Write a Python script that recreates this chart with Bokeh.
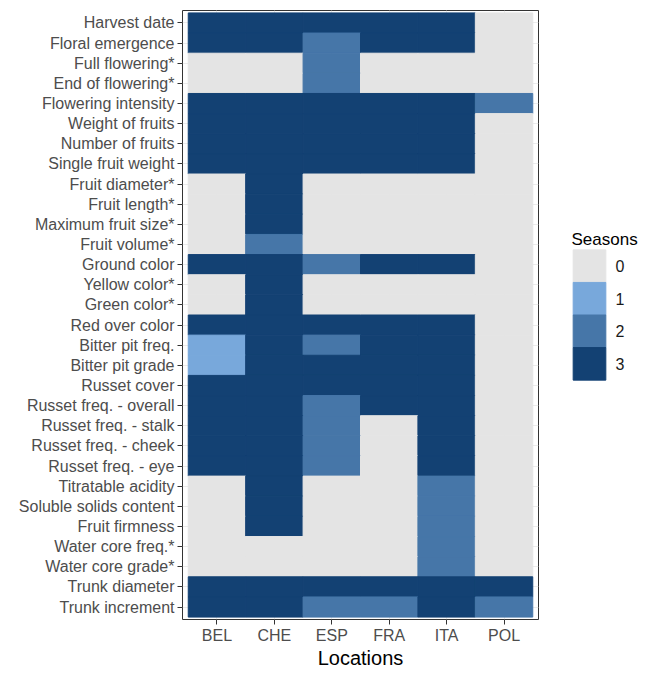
from bokeh.plotting import figure
from bokeh.models import ColumnDataSource, FactorRange, CategoricalColorMapper
from bokeh.core.properties import value
from bokeh.layouts import row
from bokeh.embed import file_html
from bokeh.resources import INLINE

locations = ["BEL", "CHE", "ESP", "FRA", "ITA", "POL"]

traits = [
    "Harvest date", "Floral emergence", "Full flowering*", "End of flowering*",
    "Flowering intensity", "Weight of fruits", "Number of fruits",
    "Single fruit weight", "Fruit diameter*", "Fruit length*",
    "Maximum fruit size*", "Fruit volume*", "Ground color", "Yellow color*",
    "Green color*", "Red over color", "Bitter pit freq.", "Bitter pit grade",
    "Russet cover", "Russet freq. - overall", "Russet freq. - stalk",
    "Russet freq. - cheek", "Russet freq. - eye", "Titratable acidity",
    "Soluble solids content", "Fruit firmness", "Water core freq.*",
    "Water core grade*", "Trunk diameter", "Trunk increment",
]

# seasons per trait, columns in order of `locations`
seasons = [
    [3, 3, 3, 3, 3, 0],  # Harvest date
    [3, 3, 2, 3, 3, 0],  # Floral emergence
    [0, 0, 2, 0, 0, 0],  # Full flowering*
    [0, 0, 2, 0, 0, 0],  # End of flowering*
    [3, 3, 3, 3, 3, 2],  # Flowering intensity
    [3, 3, 3, 3, 3, 0],  # Weight of fruits
    [3, 3, 3, 3, 3, 0],  # Number of fruits
    [3, 3, 3, 3, 3, 0],  # Single fruit weight
    [0, 3, 0, 0, 0, 0],  # Fruit diameter*
    [0, 3, 0, 0, 0, 0],  # Fruit length*
    [0, 3, 0, 0, 0, 0],  # Maximum fruit size*
    [0, 2, 0, 0, 0, 0],  # Fruit volume*
    [3, 3, 2, 3, 3, 0],  # Ground color
    [0, 3, 0, 0, 0, 0],  # Yellow color*
    [0, 3, 0, 0, 0, 0],  # Green color*
    [3, 3, 3, 3, 3, 0],  # Red over color
    [1, 3, 2, 3, 3, 0],  # Bitter pit freq.
    [1, 3, 3, 3, 3, 0],  # Bitter pit grade
    [3, 3, 3, 3, 3, 0],  # Russet cover
    [3, 3, 2, 3, 3, 0],  # Russet freq. - overall
    [3, 3, 2, 0, 3, 0],  # Russet freq. - stalk
    [3, 3, 2, 0, 3, 0],  # Russet freq. - cheek
    [3, 3, 2, 0, 3, 0],  # Russet freq. - eye
    [0, 3, 0, 0, 2, 0],  # Titratable acidity
    [0, 3, 0, 0, 2, 0],  # Soluble solids content
    [0, 3, 0, 0, 2, 0],  # Fruit firmness
    [0, 0, 0, 0, 2, 0],  # Water core freq.*
    [0, 0, 0, 0, 2, 0],  # Water core grade*
    [3, 3, 3, 3, 3, 3],  # Trunk diameter
    [3, 3, 2, 2, 3, 2],  # Trunk increment
]

season_levels = ["0", "1", "2", "3"]
season_colors = ["#E4E4E4", "#78A8DB", "#4676A8", "#134173"]
legend_title = "Seasons"

FONT = "Liberation Sans"

xs, ys, vs = [], [], []
for t, row_vals in zip(traits, seasons):
    for loc, v in zip(locations, row_vals):
        xs.append(loc)
        ys.append(t)
        vs.append(str(v))
source = ColumnDataSource(dict(location=xs, trait=ys, season=vs))

mapper = CategoricalColorMapper(factors=season_levels, palette=season_colors)
cmap = {"field": "season", "transform": mapper}

# ---------------- main heatmap ----------------
x_range = FactorRange(factors=locations, range_padding=0.1,
                      range_padding_units="absolute")
y_range = FactorRange(factors=list(reversed(traits)), range_padding=0.12,
                      range_padding_units="absolute")

p = figure(width=540, height=671, x_range=x_range, y_range=y_range,
           output_backend="svg", toolbar_location=None,
           min_border_left=182, min_border_right=2,
           min_border_top=10, min_border_bottom=48)

p.rect(x="location", y="trait", width=1, height=1, source=source,
       fill_color=cmap, line_color=cmap, line_width=1)

for ax in (p.xaxis, p.yaxis):
    ax.axis_line_color = None
    ax.major_tick_line_color = "#333333"
    ax.major_tick_out = 5
    ax.major_tick_in = 0
    ax.minor_tick_line_color = None
    ax.major_label_text_font = FONT
    ax.major_label_text_font_size = "16px"
    ax.major_label_text_color = "#4D4D4D"
    ax.major_label_standoff = 3

p.xaxis.major_label_standoff = 2
p.xaxis.axis_label = "Locations"
p.xaxis.axis_label_text_font = FONT
p.xaxis.axis_label_text_font_size = "20px"
p.xaxis.axis_label_text_font_style = "normal"
p.xaxis.axis_label_text_color = "#000000"
p.xaxis.axis_label_standoff = 0

p.xgrid.grid_line_color = "#EBEBEB"
p.ygrid.grid_line_color = "#EBEBEB"
p.outline_line_color = "#333333"
p.outline_line_width = 1
p.background_fill_color = "#FFFFFF"

# ---------------- legend panel (keys through the same colour mapper) ----------------
leg_source = ColumnDataSource(dict(key=[legend_title] * len(season_levels),
                                   season=season_levels))
leg = figure(width=98, height=671,
             x_range=FactorRange(factors=[legend_title], range_padding=1.0,
                                 range_padding_units="absolute"),
             y_range=FactorRange(factors=season_levels[::-1], range_padding=7.35,
                                 range_padding_units="absolute"),
             output_backend="svg", toolbar_location=None,
             x_axis_location=None, y_axis_location=None,
             min_border_left=0, min_border_right=0,
             min_border_top=10, min_border_bottom=48)
leg.rect(x="key", y="season", width=1, height=1, source=leg_source,
         fill_color=cmap, line_color=cmap, line_width=1)
leg.text(x="key", y="season", text="season", source=leg_source,
         x_offset=26, text_align="left", text_baseline="middle",
         text_font=value(FONT), text_font_size="16px", text_color="#1A1A1A")
title_source = ColumnDataSource(dict(key=[legend_title], season=[season_levels[0]],
                                     label=[legend_title]))
leg.text(x="key", y="season", text="label", source=title_source,
         x_offset=-18, y_offset=-27, text_align="left",
         text_baseline="alphabetic",
         text_font=value(FONT), text_font_size="17px", text_color="#000000")
leg.grid.visible = False
leg.outline_line_color = None

layout = row(p, leg)
open("out.html", "w").write(file_html(layout, INLINE))
